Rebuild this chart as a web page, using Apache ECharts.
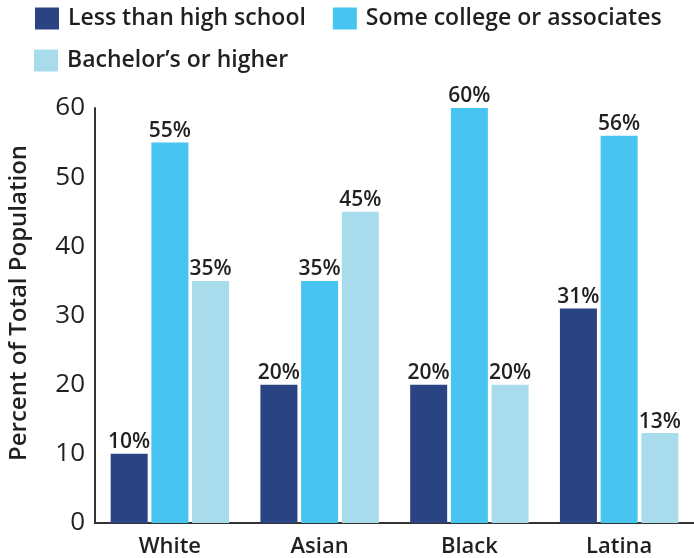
<!DOCTYPE html>
<html><head><meta charset="utf-8">
<script src="https://cdn.jsdelivr.net/npm/echarts@6/dist/echarts.min.js"></script>
<style>html,body{margin:0;padding:0;background:#fff}#c{width:694px;height:558px}</style>
</head><body><div id="c"></div>
<script>
var categories = ['White', 'Asian', 'Black', 'Latina'];
var lessHS = [10, 20, 20, 31];
var someCollege = [55, 35, 60, 56];
var bachelors = [35, 45, 20, 13];
var seriesNames = ['Less than high school', 'Some college or associates', 'Bachelor\u2019s or higher'];
var colors = ['#2a4383', '#47c4ef', '#a8dcec'];
var yTicks = {min: 0, max: 60, interval: 10};
var yAxisTitle = 'Percent of Total Population';

var font = 'Open Sans';
var ink = '#231f20';
var chart = echarts.init(document.getElementById('c'));
function mk(name, data, color) {
  return {
    name: name, type: 'bar', data: data, barWidth: 37, barGap: '10%',
    itemStyle: {color: color},
    label: {show: true, position: 'top', distance: 1, formatter: '{c}%',
      fontFamily: font, fontWeight: 600, fontSize: 21, color: ink}
  };
}
var legendText = {fontFamily: font, fontWeight: 600, fontSize: 23, color: ink, padding: [0, 0, 0, 4]};
chart.setOption({
  animation: false,
  color: colors,
  legend: [
    {data: [seriesNames[0], seriesNames[1]], left: 35, top: 7, padding: 0, itemWidth: 24, itemHeight: 22, itemGap: 27, textStyle: legendText, icon: 'rect'},
    {data: [seriesNames[2]], left: 34, top: 49, padding: 0, itemWidth: 24, itemHeight: 22, textStyle: legendText, icon: 'rect'}
  ],
  graphic: [{
    type: 'text', x: 19, y: 303, rotation: Math.PI / 2,
    style: {text: yAxisTitle, align: 'center', verticalAlign: 'middle',
      fontFamily: font, fontWeight: 600, fontSize: 24, fill: ink}
  }],
  grid: {left: 95, top: 108, width: 603, bottom: 32},
  xAxis: {
    type: 'category', data: categories,
    axisLine: {lineStyle: {color: '#333', width: 2}},
    axisTick: {show: false},
    axisLabel: {fontFamily: font, fontWeight: 600, fontSize: 22, color: ink, margin: 13}
  },
  yAxis: {
    type: 'value', min: yTicks.min, max: yTicks.max, interval: yTicks.interval,
    axisLine: {show: true, lineStyle: {color: '#333', width: 2}},
    axisTick: {show: false},
    splitLine: {show: false},
    axisLabel: {fontFamily: font, fontWeight: 400, fontSize: 26, color: ink, margin: 10}
  },
  series: [mk(seriesNames[0], lessHS, colors[0]), mk(seriesNames[1], someCollege, colors[1]), mk(seriesNames[2], bachelors, colors[2])]
});
</script></body></html>
